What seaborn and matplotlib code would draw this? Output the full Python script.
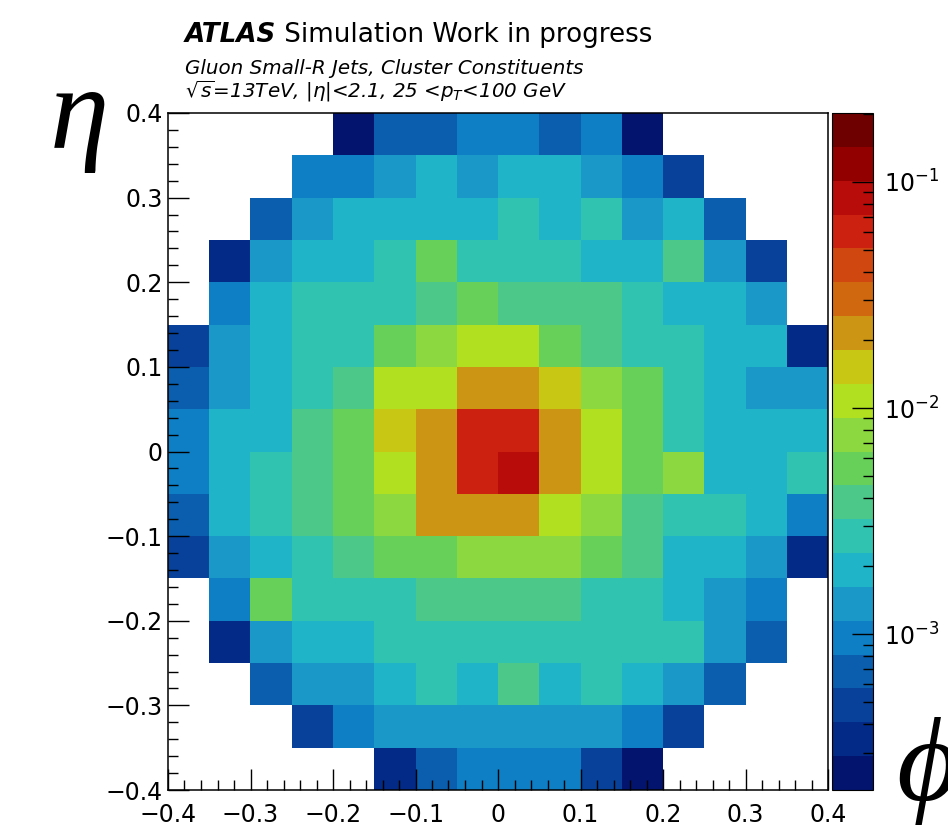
import numpy as np
import pandas as pd
import seaborn as sns
import matplotlib
matplotlib.use("Agg")
import matplotlib.pyplot as plt
from matplotlib.colors import ListedColormap, LogNorm
from matplotlib.ticker import MultipleLocator, FixedLocator, FixedFormatter

# bin centres: phi along x, eta along y (rows listed top to bottom)
phi_centres = [-0.375, -0.325, -0.275, -0.225, -0.175, -0.125, -0.075, -0.025,
               0.025, 0.075, 0.125, 0.175, 0.225, 0.275, 0.325, 0.375]
eta_centres = [0.375, 0.325, 0.275, 0.225, 0.175, 0.125, 0.075, 0.025,
               -0.025, -0.075, -0.125, -0.175, -0.225, -0.275, -0.325, -0.375]

# fraction of constituents per cell, in units of 1e-3 (0 = empty cell)
frac_1e3 = [
    [0, 0, 0, 0, 0.24, 0.69, 0.69, 0.97, 0.97, 0.69, 0.97, 0.24, 0, 0, 0, 0],
    [0, 0, 0, 0.97, 0.97, 1.36, 1.92, 1.36, 1.92, 1.92, 1.36, 0.97, 0.49, 0, 0, 0],
    [0, 0, 0.69, 1.36, 1.92, 1.92, 1.92, 1.92, 2.72, 1.92, 2.72, 1.36, 1.92, 0.69, 0, 0],
    [0, 0.34, 1.36, 1.92, 1.92, 2.72, 5.41, 2.72, 2.72, 2.72, 1.92, 1.92, 3.83, 1.36, 0.49, 0],
    [0, 0.97, 1.92, 2.72, 2.72, 2.72, 3.83, 5.41, 3.83, 3.83, 3.83, 2.72, 1.92, 1.92, 1.36, 0],
    [0.49, 1.36, 1.92, 2.72, 2.72, 5.41, 7.64, 10.8, 10.8, 5.41, 3.83, 2.72, 2.72, 1.92, 1.92, 0.34],
    [0.69, 1.36, 1.92, 2.72, 3.83, 10.8, 10.8, 21.5, 21.5, 15.2, 7.64, 5.41, 2.72, 1.92, 1.36, 1.36],
    [0.97, 1.92, 1.92, 3.83, 5.41, 15.2, 21.5, 60.3, 60.3, 21.5, 10.8, 5.41, 2.72, 1.92, 1.92, 1.92],
    [0.97, 1.92, 2.72, 3.83, 5.41, 10.8, 21.5, 60.3, 85.1, 21.5, 10.8, 5.41, 7.64, 1.92, 1.92, 2.72],
    [0.69, 1.92, 2.72, 3.83, 5.41, 7.64, 21.5, 21.5, 21.5, 10.8, 7.64, 3.83, 2.72, 2.72, 1.92, 0.97],
    [0.49, 1.36, 1.92, 2.72, 3.83, 5.41, 5.41, 7.64, 7.64, 7.64, 5.41, 3.83, 1.92, 1.92, 1.36, 0.34],
    [0, 0.97, 5.41, 2.72, 2.72, 2.72, 3.83, 3.83, 3.83, 3.83, 2.72, 2.72, 1.92, 1.36, 0.97, 0],
    [0, 0.34, 1.36, 1.92, 1.92, 2.72, 2.72, 2.72, 2.72, 2.72, 2.72, 2.72, 2.72, 1.36, 0.69, 0],
    [0, 0, 0.69, 1.36, 1.36, 1.92, 2.72, 1.92, 3.83, 1.92, 2.72, 1.92, 1.36, 0.69, 0, 0],
    [0, 0, 0, 0.49, 0.97, 1.36, 1.36, 1.36, 1.36, 1.36, 1.36, 0.97, 0.49, 0, 0, 0],
    [0, 0, 0, 0, 0, 0.34, 0.69, 0.97, 0.97, 0.97, 0.49, 0.24, 0, 0, 0, 0],
]

axis_ticks = [-0.4, -0.3, -0.2, -0.1, 0.0, 0.1, 0.2, 0.3, 0.4]
axis_ticklabels = ["\u22120.4", "\u22120.3", "\u22120.2", "\u22120.1", "0",
                   "0.1", "0.2", "0.3", "0.4"]

# ROOT-like palette, 20 contour levels (bottom -> top)
palette = ["#02146e", "#032a86", "#07419a", "#0b5ead", "#0e7ec5", "#1a98c8",
           "#20b4c8", "#30c4b0", "#4cc888", "#66d058", "#8cd840", "#b0e020",
           "#c8c814", "#cc9614", "#d0680f", "#d0480f", "#cc2010", "#b80c0a",
           "#920000", "#6e0000"]
z_min, z_max = 2.05e-4, 0.2014

# long table of cell centres + weights
rows = []
for i, eta in enumerate(eta_centres):
    for j, phi in enumerate(phi_centres):
        rows.append({"phi": phi, "eta": eta, "w": frac_1e3[i][j] * 1e-3})
df = pd.DataFrame(rows)

W, H = 948, 827
fig = plt.figure(figsize=(W / 100, H / 100), dpi=100)
ax = fig.add_axes([168 / W, 37 / H, 660 / W, 677 / H])
cax = fig.add_axes([832 / W, 37 / H, 41 / W, 677 / H])

cmap = ListedColormap(palette)
sns.histplot(data=df, x="phi", y="eta", weights="w", bins=16,
             binrange=(-0.4, 0.4), cmap=cmap,
             norm=LogNorm(vmin=z_min, vmax=z_max), vmin=None, vmax=None,
             cbar=True, cbar_ax=cax, ax=ax)

ax.set_xlim(-0.4, 0.4)
ax.set_ylim(-0.4, 0.4)
ax.set_xlabel("")
ax.set_ylabel("")
ax.xaxis.set_major_locator(FixedLocator(axis_ticks))
ax.xaxis.set_major_formatter(FixedFormatter(axis_ticklabels))
ax.yaxis.set_major_locator(FixedLocator(axis_ticks))
ax.yaxis.set_major_formatter(FixedFormatter(axis_ticklabels))
ax.xaxis.set_minor_locator(MultipleLocator(0.02))
ax.yaxis.set_minor_locator(MultipleLocator(0.02))
ax.tick_params(which="both", direction="in", width=1.0, color="black")
ax.tick_params(which="major", length=15, labelsize=17)
ax.tick_params(which="minor", length=7.5)
ax.tick_params(axis="x", which="major", pad=9)
ax.tick_params(axis="y", which="major", pad=4)
for s in ax.spines.values():
    s.set_linewidth(1.1)

# colour bar
cax.minorticks_on()
cax.tick_params(which="both", direction="in", right=True, left=False, width=1.0)
cax.tick_params(which="major", length=15, labelsize=17, pad=8)
cax.tick_params(which="minor", length=7.5)
cb = ax.collections[0].colorbar
if cb is not None:
    cb.outline.set_linewidth(0.8)

# header text
fig.canvas.draw()
r = fig.canvas.get_renderer()
t1 = fig.text(185 / W, 1 - 42 / H, "ATLAS", fontsize=18.8, fontweight="bold",
              fontstyle="italic", va="baseline")
bb = t1.get_window_extent(renderer=r)
fig.text(bb.x1 / W, 1 - 42 / H, " Simulation Work in progress", fontsize=18.8,
         va="baseline")
fig.text(185 / W, 1 - 74 / H, "Gluon Small-R Jets, Cluster Constituents",
         fontsize=14.3, fontstyle="italic", va="baseline")
fig.text(185 / W, 1 - 97 / H,
         r"$\sqrt{s}$=13TeV, $|\eta|$<2.1, 25 <$p_{T}$<100 GeV",
         fontsize=14.3, fontstyle="italic", va="baseline")

# big axis titles
fig.text(50 / W, 1 - 148 / H, "\u03b7", fontsize=86, fontstyle="italic",
         family=["Liberation Serif", "DejaVu Serif"], va="baseline")
fig.text(896 / W, 1 - 800 / H, "\u03d5", fontsize=86, fontstyle="italic",
         family=["Liberation Serif", "DejaVu Serif"], va="baseline")

fig.savefig("out.png", dpi=100)
